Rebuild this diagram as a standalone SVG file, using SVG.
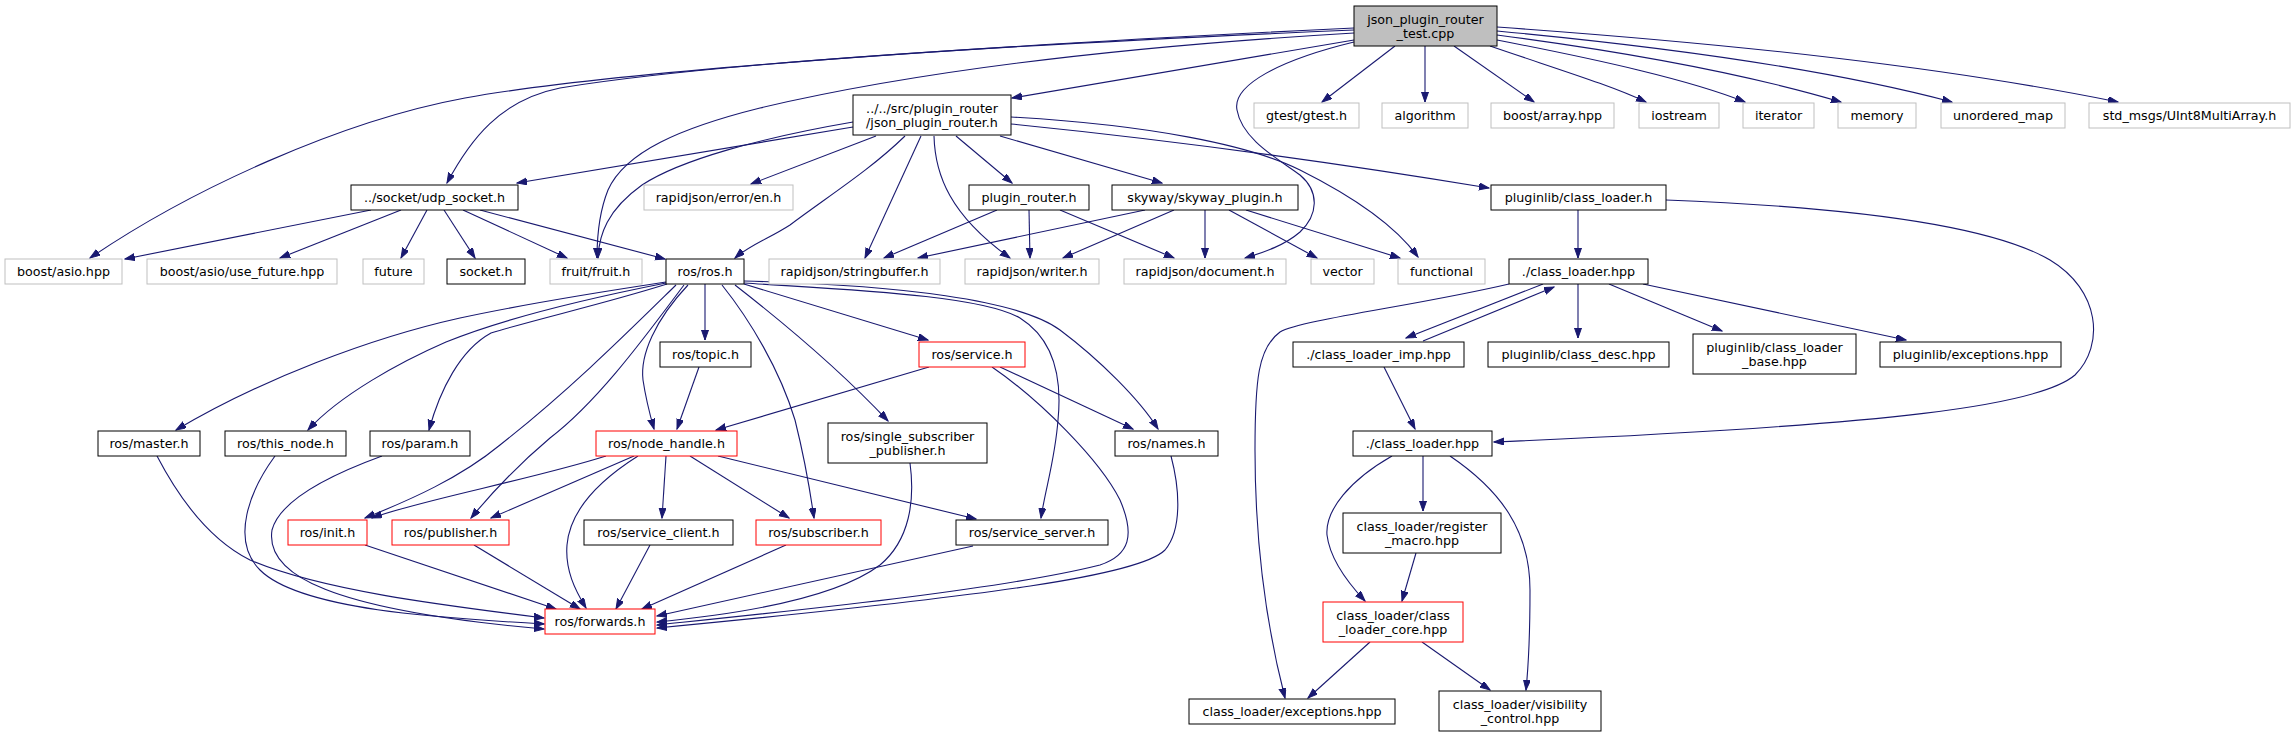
<svg xmlns="http://www.w3.org/2000/svg" width="2295" height="737" viewBox="0 0 2295 737">
<style>
.n rect{fill:#fff;stroke:#000;stroke-width:1}
.n.x rect{stroke:#bfbfbf}
.n.r rect{stroke:#ff0000}
.n.root rect{fill:#bfbfbf}
text{font-family:"DejaVu Sans","Liberation Sans",sans-serif;font-size:12.7px;text-anchor:middle;fill:#000}
#edges path{fill:none;stroke:#191970;stroke-width:1.1;marker-end:url(#a)}
</style>
<defs>
<marker id="a" markerWidth="11" markerHeight="8" refX="10" refY="3.5" orient="auto" markerUnits="userSpaceOnUse"><path d="M0,0 L10,3.5 L0,7 z" fill="#191970" stroke="#191970" stroke-width="1"/></marker>
</defs>
<rect width="2295" height="737" fill="#fff"/>
<g id="edges">
<path d="M1354,28 C1000,45 620,70 465,98 C340,121 190,190 90,258"/>
<path d="M1354,30 C1000,45 700,65 560,88 C500,100 470,140 447,183"/>
<path d="M1354,40 L1012,98"/>
<path d="M1354,33 C1100,48 900,75 760,108 C680,128 625,152 608,190 C598,215 597,240 597,258"/>
<path d="M1395,46 L1322,102"/>
<path d="M1425,46 L1425,102"/>
<path d="M1454,46 L1534,102"/>
<path d="M1490,46 C1560,70 1610,85 1646,102"/>
<path d="M1497,40 C1600,60 1690,80 1745,102"/>
<path d="M1497,35 C1650,55 1760,78 1841,102"/>
<path d="M1497,31 C1700,50 1850,75 1952,102"/>
<path d="M1497,27 C1750,45 1950,68 2118,102"/>
<path d="M1354,42 C1280,60 1232,85 1237,110 C1242,140 1280,160 1300,175 C1320,192 1318,215 1300,232 C1285,245 1265,252 1245,258"/>
<path d="M1011,117 C1150,125 1250,145 1300,170 C1350,195 1395,225 1418,257"/>
<path d="M1011,124 C1200,143 1350,165 1489,188"/>
<path d="M853,127 L517,183"/>
<path d="M853,122 C760,138 680,160 642,185 C607,210 599,235 598,258"/>
<path d="M876,136 L751,184"/>
<path d="M905,136 C870,170 830,195 790,225 C770,238 750,245 735,258"/>
<path d="M921,136 L865,258"/>
<path d="M934,136 C935,175 950,215 1010,258"/>
<path d="M956,136 L1012,183"/>
<path d="M1000,136 L1162,183"/>
<path d="M371,210 L125,259"/>
<path d="M401,210 L280,258"/>
<path d="M427,210 L401,258"/>
<path d="M444,210 L475,258"/>
<path d="M463,210 L567,258"/>
<path d="M480,210 L665,259"/>
<path d="M997,210 L884,258"/>
<path d="M1029,210 L1030,258"/>
<path d="M1060,210 L1174,258"/>
<path d="M1145,210 L918,258"/>
<path d="M1174,210 L1063,258"/>
<path d="M1205,210 L1205,258"/>
<path d="M1229,210 L1317,258"/>
<path d="M1246,210 L1400,258"/>
<path d="M1578,210 L1578,258"/>
<path d="M1666,200 C1850,207 1990,225 2050,260 C2100,290 2105,345 2075,375 C2040,405 1900,425 1494,442"/>
<path d="M1543,284 L1406,338"/>
<path d="M1423,341 L1554,287"/>
<path d="M1578,284 L1578,338"/>
<path d="M1609,284 L1722,331"/>
<path d="M1643,284 L1906,340"/>
<path d="M1509,284 C1420,305 1300,320 1280,332 C1258,348 1255,380 1255,450 C1255,560 1270,640 1285,698"/>
<path d="M1384,367 L1415,429"/>
<path d="M1423,456 L1423,511"/>
<path d="M1392,456 C1350,480 1325,510 1327,535 C1330,560 1350,585 1365,601"/>
<path d="M1450,456 C1500,490 1530,530 1530,590 C1530,640 1528,670 1526,690"/>
<path d="M1416,553 L1402,601"/>
<path d="M1370,642 L1308,698"/>
<path d="M1422,642 L1490,690"/>
<path d="M666,282 C600,292 520,305 460,318 C370,338 260,380 176,430"/>
<path d="M666,283 C580,300 500,320 446,342 C400,362 340,395 308,430"/>
<path d="M667,284 C600,305 540,318 491,333 C460,350 440,390 429,430"/>
<path d="M676,285 C630,330 570,390 500,445 C460,478 410,500 365,518"/>
<path d="M684,285 C650,330 600,400 550,438 C512,470 490,495 471,518"/>
<path d="M688,285 C655,320 640,355 643,380 C646,400 650,415 654,429"/>
<path d="M705,284 L705,340"/>
<path d="M722,285 C750,320 780,370 795,420 C805,460 810,490 814,518"/>
<path d="M735,285 C780,320 840,370 888,421"/>
<path d="M744,284 L928,340"/>
<path d="M744,283 C850,290 980,295 1020,318 C1055,340 1062,380 1058,420 C1055,460 1045,490 1041,518"/>
<path d="M744,281 C900,285 1020,300 1060,330 C1100,360 1140,400 1158,429"/>
<path d="M699,367 L677,429"/>
<path d="M929,367 L716,430"/>
<path d="M1000,367 L1133,429"/>
<path d="M992,367 C1040,400 1100,460 1120,500 C1135,535 1130,555 1100,565 C1000,590 800,610 657,625"/>
<path d="M1171,456 C1180,490 1182,530 1165,550 C1140,575 1000,595 657,628"/>
<path d="M910,463 C915,500 910,540 880,565 C840,595 760,612 657,622"/>
<path d="M973,546 L657,616"/>
<path d="M606,456 C530,480 420,500 372,518"/>
<path d="M634,456 L491,518"/>
<path d="M638,456 C600,480 570,510 567,545 C565,570 575,590 586,608"/>
<path d="M666,456 L662,518"/>
<path d="M690,456 L789,518"/>
<path d="M718,456 L976,519"/>
<path d="M365,545 L556,609"/>
<path d="M474,545 L580,609"/>
<path d="M650,545 L616,609"/>
<path d="M786,545 L642,609"/>
<path d="M157,456 C180,500 210,540 250,560 C320,590 440,605 544,618"/>
<path d="M275,456 C250,490 230,540 260,570 C300,610 440,618 544,624"/>
<path d="M382,456 C330,475 280,500 272,530 C265,575 330,610 544,629"/>
</g>
<g id="n1" class="n root"><rect x="1354" y="6" width="143" height="40"/><text x="1425.5" y="23.5">json_plugin_router</text><text x="1425.5" y="37.5">_test.cpp</text></g>
<g id="n2" class="n"><rect x="853" y="95" width="158" height="40"/><text x="932" y="112.5">../../src/plugin_router</text><text x="932" y="126.5">/json_plugin_router.h</text></g>
<g id="n3" class="n x"><rect x="1254" y="103" width="105" height="25"/><text x="1306.5" y="119.5">gtest/gtest.h</text></g>
<g id="n4" class="n x"><rect x="1382" y="103" width="86" height="25"/><text x="1425" y="119.5">algorithm</text></g>
<g id="n5" class="n x"><rect x="1491" y="103" width="123" height="25"/><text x="1552.5" y="119.5">boost/array.hpp</text></g>
<g id="n6" class="n x"><rect x="1639" y="103" width="80" height="25"/><text x="1679" y="119.5">iostream</text></g>
<g id="n7" class="n x"><rect x="1743" y="103" width="71" height="25"/><text x="1778.5" y="119.5">iterator</text></g>
<g id="n8" class="n x"><rect x="1838" y="103" width="78" height="25"/><text x="1877" y="119.5">memory</text></g>
<g id="n9" class="n x"><rect x="1941" y="103" width="124" height="25"/><text x="2003" y="119.5">unordered_map</text></g>
<g id="n10" class="n x"><rect x="2089" y="103" width="201" height="25"/><text x="2189.5" y="119.5">std_msgs/UInt8MultiArray.h</text></g>
<g id="n11" class="n"><rect x="351" y="185" width="167" height="25"/><text x="434.5" y="201.5">../socket/udp_socket.h</text></g>
<g id="n12" class="n x"><rect x="644" y="185" width="149" height="25"/><text x="718.5" y="201.5">rapidjson/error/en.h</text></g>
<g id="n13" class="n"><rect x="969" y="185" width="120" height="25"/><text x="1029" y="201.5">plugin_router.h</text></g>
<g id="n14" class="n"><rect x="1112" y="185" width="186" height="25"/><text x="1205" y="201.5">skyway/skyway_plugin.h</text></g>
<g id="n15" class="n"><rect x="1491" y="185" width="175" height="25"/><text x="1578.5" y="201.5">pluginlib/class_loader.h</text></g>
<g id="n16" class="n x"><rect x="5" y="259" width="117" height="25"/><text x="63.5" y="275.5">boost/asio.hpp</text></g>
<g id="n17" class="n x"><rect x="147" y="259" width="190" height="25"/><text x="242" y="275.5">boost/asio/use_future.hpp</text></g>
<g id="n18" class="n x"><rect x="363" y="259" width="61" height="25"/><text x="393.5" y="275.5">future</text></g>
<g id="n19" class="n"><rect x="447" y="259" width="78" height="25"/><text x="486" y="275.5">socket.h</text></g>
<g id="n20" class="n x"><rect x="550" y="259" width="92" height="25"/><text x="596" y="275.5">fruit/fruit.h</text></g>
<g id="n21" class="n"><rect x="666" y="259" width="78" height="25"/><text x="705" y="275.5">ros/ros.h</text></g>
<g id="n22" class="n x"><rect x="769" y="259" width="171" height="25"/><text x="854.5" y="275.5">rapidjson/stringbuffer.h</text></g>
<g id="n23" class="n x"><rect x="965" y="259" width="134" height="25"/><text x="1032" y="275.5">rapidjson/writer.h</text></g>
<g id="n24" class="n x"><rect x="1124" y="259" width="162" height="25"/><text x="1205" y="275.5">rapidjson/document.h</text></g>
<g id="n25" class="n x"><rect x="1311" y="259" width="63" height="25"/><text x="1342.5" y="275.5">vector</text></g>
<g id="n26" class="n x"><rect x="1398" y="259" width="87" height="25"/><text x="1441.5" y="275.5">functional</text></g>
<g id="n27" class="n"><rect x="1509" y="259" width="139" height="25"/><text x="1578.5" y="275.5">./class_loader.hpp</text></g>
<g id="n28" class="n"><rect x="660" y="342" width="91" height="25"/><text x="705.5" y="358.5">ros/topic.h</text></g>
<g id="n29" class="n r"><rect x="919" y="342" width="106" height="25"/><text x="972" y="358.5">ros/service.h</text></g>
<g id="n30" class="n"><rect x="1293" y="342" width="171" height="25"/><text x="1378.5" y="358.5">./class_loader_imp.hpp</text></g>
<g id="n31" class="n"><rect x="1488" y="342" width="181" height="25"/><text x="1578.5" y="358.5">pluginlib/class_desc.hpp</text></g>
<g id="n32" class="n"><rect x="1693" y="334" width="163" height="40"/><text x="1774.5" y="351.5">pluginlib/class_loader</text><text x="1774.5" y="365.5">_base.hpp</text></g>
<g id="n33" class="n"><rect x="1880" y="342" width="181" height="25"/><text x="1970.5" y="358.5">pluginlib/exceptions.hpp</text></g>
<g id="n34" class="n"><rect x="98" y="431" width="102" height="25"/><text x="149" y="447.5">ros/master.h</text></g>
<g id="n35" class="n"><rect x="225" y="431" width="121" height="25"/><text x="285.5" y="447.5">ros/this_node.h</text></g>
<g id="n36" class="n"><rect x="370" y="431" width="100" height="25"/><text x="420" y="447.5">ros/param.h</text></g>
<g id="n37" class="n r"><rect x="596" y="431" width="141" height="25"/><text x="666.5" y="447.5">ros/node_handle.h</text></g>
<g id="n38" class="n"><rect x="828" y="423" width="159" height="40"/><text x="907.5" y="440.5">ros/single_subscriber</text><text x="907.5" y="454.5">_publisher.h</text></g>
<g id="n39" class="n"><rect x="1115" y="431" width="103" height="25"/><text x="1166.5" y="447.5">ros/names.h</text></g>
<g id="n40" class="n"><rect x="1353" y="431" width="139" height="25"/><text x="1422.5" y="447.5">./class_loader.hpp</text></g>
<g id="n41" class="n r"><rect x="288" y="520" width="79" height="25"/><text x="327.5" y="536.5">ros/init.h</text></g>
<g id="n42" class="n r"><rect x="392" y="520" width="117" height="25"/><text x="450.5" y="536.5">ros/publisher.h</text></g>
<g id="n43" class="n"><rect x="584" y="520" width="149" height="25"/><text x="658.5" y="536.5">ros/service_client.h</text></g>
<g id="n44" class="n r"><rect x="756" y="520" width="125" height="25"/><text x="818.5" y="536.5">ros/subscriber.h</text></g>
<g id="n45" class="n"><rect x="956" y="520" width="152" height="25"/><text x="1032" y="536.5">ros/service_server.h</text></g>
<g id="n46" class="n"><rect x="1343" y="513" width="158" height="40"/><text x="1422" y="530.5">class_loader/register</text><text x="1422" y="544.5">_macro.hpp</text></g>
<g id="n47" class="n r"><rect x="545" y="609" width="110" height="25"/><text x="600" y="625.5">ros/forwards.h</text></g>
<g id="n48" class="n r"><rect x="1323" y="602" width="140" height="40"/><text x="1393" y="619.5">class_loader/class</text><text x="1393" y="633.5">_loader_core.hpp</text></g>
<g id="n49" class="n"><rect x="1189" y="699" width="206" height="25"/><text x="1292" y="715.5">class_loader/exceptions.hpp</text></g>
<g id="n50" class="n"><rect x="1439" y="691" width="162" height="40"/><text x="1520" y="708.5">class_loader/visibility</text><text x="1520" y="722.5">_control.hpp</text></g>
</svg>
